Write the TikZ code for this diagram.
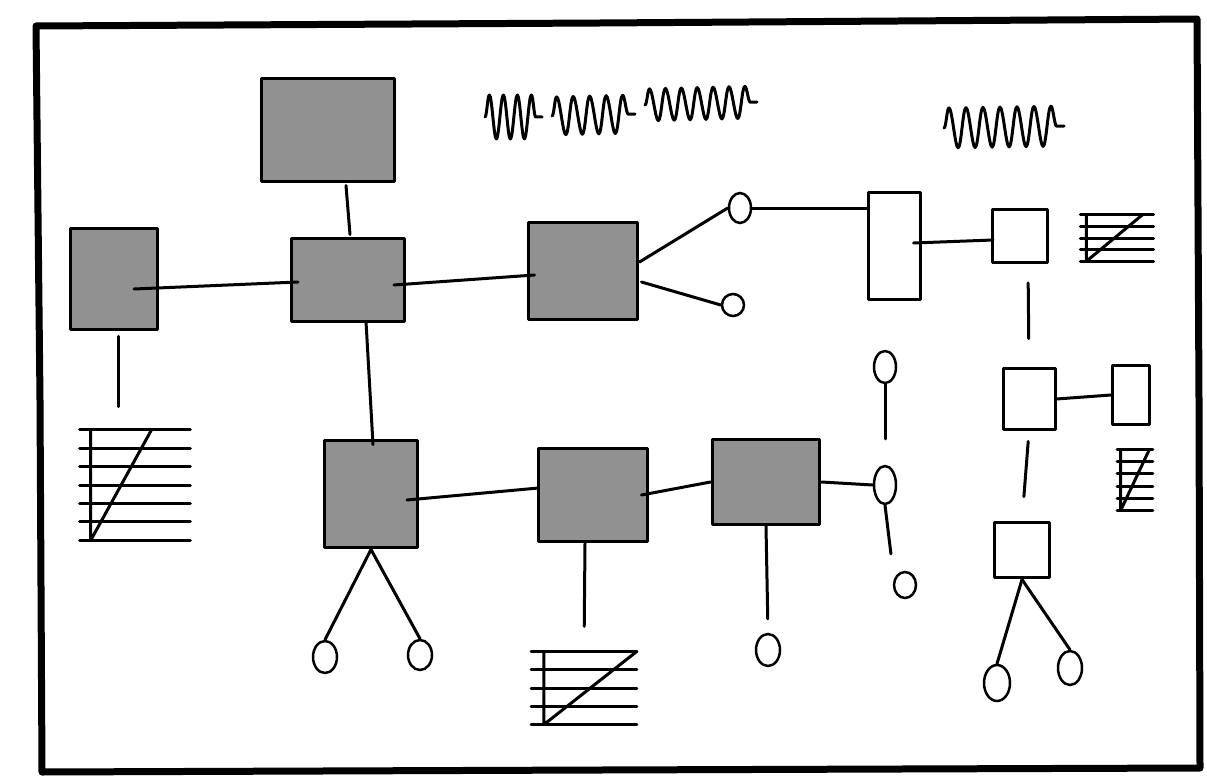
\documentclass[tikz,border=0pt]{standalone}
\usetikzlibrary{calc,shapes.geometric,decorations.pathmorphing}
\definecolor{boxgray}{RGB}{145,145,145}
\tikzset{
  ink/.style={line width=0.06cm, line cap=round, line join=round},
  frame/.style={line width=0.14cm, line cap=round, line join=round},
  gbox/.style 2 args={draw, ink, fill=boxgray, minimum width=#1, minimum height=#2, inner sep=0pt},
  wbox/.style 2 args={draw, ink, fill=white, minimum width=#1, minimum height=#2, inner sep=0pt},
  oval/.style 2 args={draw, line width=0.05cm, ellipse, minimum width=#1, minimum height=#2, inner sep=0pt},
  hbox/.style 2 args={minimum width=#1, minimum height=#2, inner sep=0pt},
  scrib/.style 2 args={ink, decorate, decoration={snake, amplitude=#1, segment length=#2}},
}
\newcommand\hatchbox[4]{% name, lines, vertical-line offset fraction, diagonal top fraction
  \foreach \i in {0,...,#2}{
    \draw[ink] ($(#1.north west)!\i/#2!(#1.south west)$) -- ($(#1.north east)!\i/#2!(#1.south east)$);
  }
  \draw[ink] ($(#1.north west)!#3!(#1.north east)$) -- ($(#1.south west)!#3!(#1.south east)$)
     -- ($(#1.north west)!#4!(#1.north east)$);
}
\begin{document}
\begin{tikzpicture}[x=0.02cm,y=-0.02cm]
\useasboundingbox (0,0) rectangle (1207,777);
\fill[white] (0,0) rectangle (1207,777);
% frame
\draw[frame] (36,26) -- (600,23) -- (1197,19) -- (1199,400) -- (1200,768) -- (600,770) -- (42,772) -- (40,400) -- cycle;

% gray boxes
\node[gbox={2.66cm}{2.08cm}] (A) at (328,130) {};
\node[gbox={1.76cm}{2.04cm}] (B) at (114,279) {};
\node[gbox={2.26cm}{1.68cm}] (C) at (348,280) {};
\node[gbox={2.2cm}{1.96cm}] (D) at (583,271) {};
\node[gbox={1.86cm}{2.16cm}] (E) at (371,494) {};
\node[gbox={2.2cm}{1.88cm}] (F) at (593,495) {};
\node[gbox={2.16cm}{1.7cm}] (G) at (766,482) {};

% white boxes
\node[wbox={1.04cm}{2.16cm}] (T) at (894,246) {};
\node[wbox={1.1cm}{1.06cm}] (H) at (1020,236) {};
\node[wbox={1.04cm}{1.24cm}] (I) at (1029,399) {};
\node[wbox={0.74cm}{1.2cm}] (J) at (1131,395) {};
\node[wbox={1.1cm}{1.12cm}] (K) at (1022,550) {};

% ovals
\node[oval={0.44cm}{0.6cm}] (o1) at (740,208) {};
\node[oval={0.44cm}{0.44cm}] (o2) at (733,305) {};
\node[oval={0.44cm}{0.64cm}] (o3) at (885,367) {};
\node[oval={0.44cm}{0.76cm}] (o4) at (885,485) {};
\node[oval={0.44cm}{0.52cm}] (o5) at (905,585) {};
\node[oval={0.48cm}{0.64cm}] (o6) at (325,657) {};
\node[oval={0.48cm}{0.6cm}] (o7) at (420,655) {};
\node[oval={0.48cm}{0.64cm}] (o8) at (768,650) {};
\node[oval={0.52cm}{0.72cm}] (o9) at (997,683) {};
\node[oval={0.48cm}{0.68cm}] (o10) at (1070,668) {};

% hatched notes
\node[hbox={2.2cm}{2.2cm}] (h1) at (135,485) {};
\node[hbox={2.1cm}{1.45cm}] (h2) at (584,688) {};
\node[hbox={1.45cm}{0.92cm}] (h3) at (1117,238) {};
\node[hbox={0.7cm}{1.2cm}] (h4) at (1135,480) {};
\hatchbox{h1}{6}{0.1}{0.65}
\hatchbox{h2}{4}{0.12}{1}
\hatchbox{h3}{4}{0.08}{0.85}
\hatchbox{h4}{5}{0.1}{0.9}

% connectors
\draw[ink] ($(A.south)+(18,2)$) -- ($(C.north)+(2,-2)$);
\draw[ink] ($(B.center)+(20,10)$) -- ($(C.west)+(8,2)$);
\draw[ink] ($(C.east)+(-12,5)$) -- ($(D.west)+(8,4)$);
\draw[ink] ($(C.south)+(18,-2)$) -- ($(E.north)+(2,6)$);
\draw[ink] ($(D.east)+(0,-9)$) -- (o1.west);
\draw[ink] ($(D.east)+(2,11)$) -- (o2.west);
\draw[ink] (o1.east) -- (o1.east -| T.west);
\draw[ink] ($(T.east)+(-8,-3)$) -- ($(H.west)+(2,4)$);
\draw[ink, shorten <=0.38cm, shorten >=0.56cm] ($(H.south)+(8,0)$) -- (I.north);
\draw[ink] (I.east) -- (J.west);
\draw[ink, shorten <=0.2cm, shorten >=0.48cm] (I.south) -- (K.north);
\draw[ink] (K.south) -- (o9.north);
\draw[ink] (K.south) -- (o10.north);
\draw[ink, shorten >=0.52cm] (o3.south) -- (o4.north);
\draw[ink] (G.east) -- (o4.west);
\draw[ink, shorten >=0.34cm] (o4.south) -- ($(o5.north)+(-12,0)$);
\draw[ink] (E.south) -- (o6.north);
\draw[ink] (E.south) -- (o7.north);
\draw[ink] ($(E.east)+(-12,6)$) -- ($(F.west)+(2,-7)$);
\draw[ink] ($(F.east)+(-8,0)$) -- (G.west);
\draw[ink, shorten >=0.5cm] ($(F.south)+(-8,0)$) -- (h2.north);
\draw[ink, shorten >=0.28cm] (G.south) -- (o8.north);
\draw[ink, shorten <=0.1cm, shorten >=0.46cm] ($(B.south)+(4,0)$) -- ($(B.south |- h1.north)+(4,0)$);

% scribbled labels
\draw[scrib={0.44cm}{0.28cm}] (485,117) -- (542,117);
\draw[scrib={0.38cm}{0.33cm}] (552,116) -- (635,114);
\draw[scrib={0.32cm}{0.318cm}] (645,105) -- (757,102);
\draw[scrib={0.4cm}{0.34cm}] (944,128) -- (1064,126);
\end{tikzpicture}
\end{document}
